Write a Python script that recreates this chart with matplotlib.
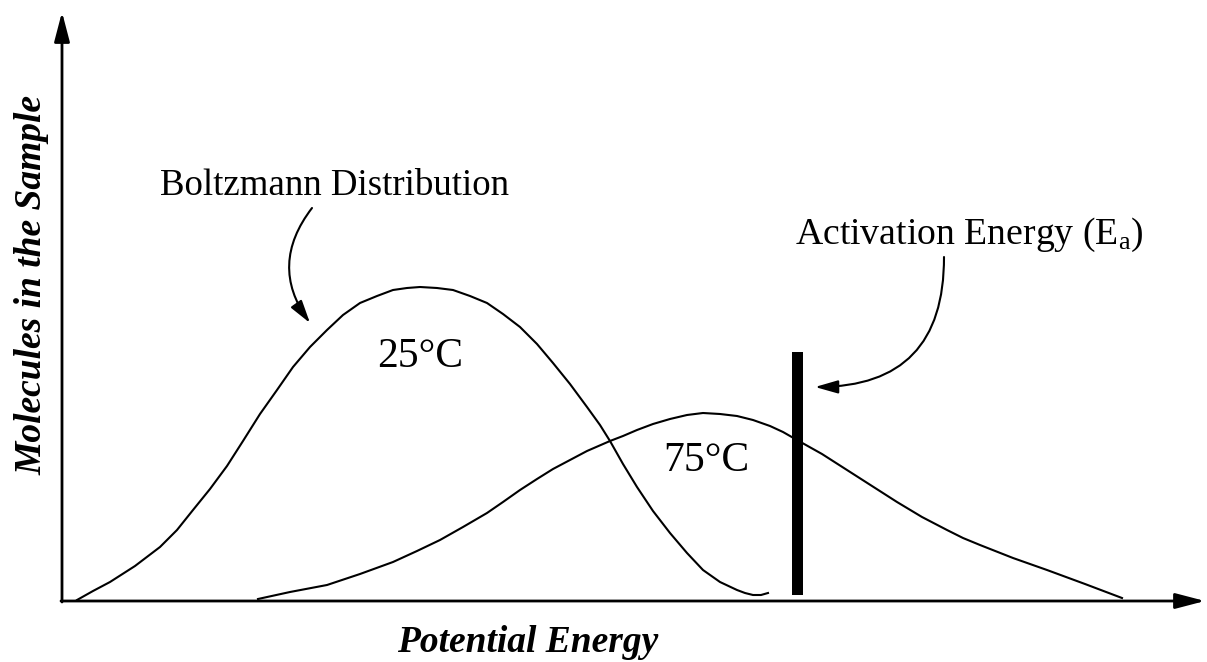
import matplotlib
matplotlib.use("Agg")
import matplotlib.pyplot as plt

plt.rcParams['font.family'] = ['Liberation Serif', 'DejaVu Serif']
plt.rcParams['mathtext.fontset'] = 'custom'
plt.rcParams['mathtext.rm'] = 'Liberation Serif'

# curve values (energy, molecules; arbitrary units)
e_25 = [1.5, 3.1, 4.8, 7.3, 9.8, 11.5, 13.1, 14.8, 16.5, 18.1, 19.8, 21.5,
        23.1, 24.8, 26.5, 28.1, 29.8, 31.5, 33.1, 34.5, 35.8, 37.5, 39.1,
        40.8, 42.5, 44.1, 45.8, 47.5, 49.1, 50.8, 52.5, 53.8, 54.8, 56.1,
        57.5, 59.1, 60.8, 62.5, 64.1, 65.8, 67.5, 68.3, 69.1, 69.9, 70.6]
n_25 = [0.1, 1.0, 1.9, 3.5, 5.4, 7.1, 9.1, 11.2, 13.5, 16.0, 18.7, 21.1,
        23.4, 25.4, 27.1, 28.6, 29.8, 30.5, 31.1, 31.3, 31.4, 31.3, 31.1,
        30.5, 29.8, 28.7, 27.4, 25.7, 23.8, 21.7, 19.4, 17.6, 16.0, 13.7,
        11.4, 9.0, 6.8, 4.8, 3.1, 1.9, 1.1, 0.8, 0.6, 0.6, 0.8]

e_75 = [19.6, 22.8, 26.5, 29.8, 33.1, 35.5, 37.8, 40.1, 42.5, 44.1, 45.8,
        47.5, 49.1, 50.8, 52.5, 54.8, 56.1, 57.5, 59.1, 60.8, 62.5, 64.1,
        65.8, 67.5, 69.1, 70.8, 72.1, 73.5, 76.0, 78.5, 81.0, 83.5, 86.0,
        88.5, 90.1, 91.8, 95.1, 98.5, 102.3, 106.0]
n_75 = [0.2, 0.9, 1.6, 2.7, 3.9, 5.0, 6.1, 7.4, 8.8, 9.9, 11.1,
        12.2, 13.2, 14.1, 15.0, 16.0, 16.5, 17.1, 17.7, 18.2, 18.6, 18.8,
        18.7, 18.5, 18.1, 17.5, 16.9, 16.1, 14.7, 13.1, 11.5, 9.9, 8.4,
        7.1, 6.3, 5.6, 4.3, 3.1, 1.7, 0.3]

# activation energy marker
Ea = 73.55
Ea_bottom = 0.6
Ea_top = 24.9

fig = plt.figure(figsize=(12.07, 6.62), dpi=100)
ax = fig.add_axes([0, 0, 1, 1])
ax.set_xlim(-6.2, 114.5)
ax.set_ylim(-6.1, 60.1)
ax.axis('off')

# axes with arrow heads
axis_arrow = dict(arrowstyle='-|>,head_length=1.8,head_width=0.47', lw=2.0,
                  color='black', shrinkA=0, shrinkB=0, mutation_scale=10)
ax.annotate('', xy=(0, 58.9), xytext=(0, -0.1), arrowprops=axis_arrow)
ax.annotate('', xy=(114.3, 0), xytext=(-0.1, 0), arrowprops=axis_arrow)

ax.plot(e_25, n_25, color='black', lw=1.5, solid_joinstyle='round')
ax.plot(e_75, n_75, color='black', lw=1.5, solid_joinstyle='round')

ax.bar(Ea, Ea_top - Ea_bottom, bottom=Ea_bottom, width=1.1, color='black')

ax.text(31.5, 23.4, '25°C', fontsize=30, va='baseline', ha='left')
ax.text(60.1, 13.0, '75°C', fontsize=30, va='baseline', ha='left')

ax.text(9.8, 40.6, 'Boltzmann Distribution', fontsize=26.6, va='baseline', ha='left')
ax.text(73.3, 35.7, r'Activation Energy ($\mathregular{E_a}$)', fontsize=27.2,
        va='baseline', ha='left')

small_arrow = dict(arrowstyle='-|>,head_length=1.4,head_width=0.4', lw=1.5,
                   color='black', shrinkA=0, shrinkB=0, mutation_scale=10)
ax.annotate('', xy=(24.8, 27.8), xytext=(25.0, 39.3),
            arrowprops=dict(small_arrow, connectionstyle='arc3,rad=0.37'))
ax.annotate('', xy=(75.3, 21.4), xytext=(88.2, 34.4),
            arrowprops=dict(small_arrow, connectionstyle='arc3,rad=-0.5'))

ax.text(46.6, -5.1, 'Potential Energy', fontsize=27, fontweight='bold',
        style='italic', ha='center', va='baseline')
ax.text(-2.0, 31.6, 'Molecules in the Sample', fontsize=27, fontweight='bold',
        style='italic', ha='center', va='baseline', rotation=90,
        rotation_mode='anchor')

fig.savefig('out.png', dpi=100)
